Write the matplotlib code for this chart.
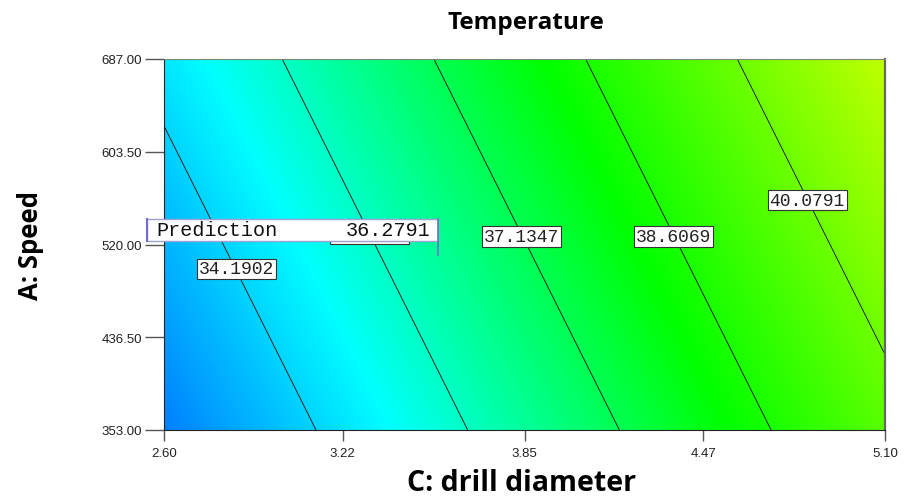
import numpy as np
import matplotlib.pyplot as plt
from matplotlib.colors import LinearSegmentedColormap
from matplotlib.patches import Rectangle

# Axis ranges and tick labels
c_ticks = [2.60, 3.22, 3.85, 4.47, 5.10]
a_ticks = [353.00, 436.50, 520.00, 603.50, 687.00]

# Fitted temperature surface: T = b0 + bc*(C - 2.60) + ba*(A - 353)
b0 = 32.715
bc = 2.799
ba = 0.00539

# Contour levels and where their labels sit (C, A)
levels = [34.1902, 35.6624, 37.1347, 38.6069, 40.0791]
label_c = [2.850, 3.314, 3.841, 4.368, 4.830]
label_a = [498.0, 530.0, 527.0, 527.0, 560.0]

# Prediction flag
pred_c = 3.55
pred_a = 520.0
pred_val = 36.2791

fig = plt.figure(figsize=(9.05, 5.02), dpi=100)
W, H = 905, 502
left, right, top, bottom = 164, 885, 60, 431
ax = fig.add_axes([left / W, 1 - bottom / H, (right - left) / W, (bottom - top) / H])

cc = np.linspace(c_ticks[0], c_ticks[-1], 300)
aa = np.linspace(a_ticks[0], a_ticks[-1], 300)
CC, AA = np.meshgrid(cc, aa)
T = b0 + bc * (CC - c_ticks[0]) + ba * (AA - a_ticks[0])

# blue -> cyan -> green -> yellow-green
vmin, vmax = 32.7, 41.5
nodes = [(0.0, (0 / 255, 128 / 255, 1.0)),
         ((34.9 - vmin) / (vmax - vmin), (0.0, 1.0, 1.0)),
         ((38.2 - vmin) / (vmax - vmin), (0.0, 1.0, 0.0)),
         (1.0, (190 / 255, 1.0, 0.0))]
cmap = LinearSegmentedColormap.from_list('de', nodes)

ax.imshow(T, origin='lower', aspect='auto', cmap=cmap, vmin=vmin, vmax=vmax,
          extent=[cc[0], cc[-1], aa[0], aa[-1]], interpolation='bilinear')
ax.contour(CC, AA, T, levels=levels, colors='#202020', linewidths=0.7)

for lvl, lc, la in zip(levels, label_c, label_a):
    ax.text(lc, la, f'{lvl:.4f}', ha='center', va='center', fontsize=13,
            family='Liberation Mono', color='#222222', zorder=4,
            bbox=dict(boxstyle='square,pad=0.1', fc='white', ec='#333333', lw=0.8))

# flag drawn in pixel-sized pieces converted to data units
px_c = (c_ticks[-1] - c_ticks[0]) / (right - left)
px_a = (a_ticks[-1] - a_ticks[0]) / (bottom - top)
fx0 = pred_c - 291 * px_c
fy0 = pred_a + 3.5 * px_a
fh = 22 * px_a
ax.add_patch(Rectangle((fx0, fy0), pred_c - fx0, fh, fc='white', ec='#a0a0d8',
                       lw=1.0, clip_on=False, zorder=6))
ax.plot([fx0, fx0], [fy0, fy0 + fh], color='#7070c8', lw=1.5, clip_on=False, zorder=7)
ax.plot([pred_c, pred_c], [pred_a - 10 * px_a, fy0 + fh], color='#7070c8', lw=1.2,
        clip_on=False, zorder=7)
ax.text(fx0 + 9 * px_c, fy0 + fh / 2, 'Prediction', ha='left', va='center',
        fontsize=14.5, family='Liberation Mono', color='#111111', zorder=8)
ax.text(pred_c - 7 * px_c, fy0 + fh / 2, f'{pred_val:.4f}', ha='right', va='center',
        fontsize=14.5, family='Liberation Mono', color='#111111', zorder=8)

ax.set_xlim(c_ticks[0], c_ticks[-1])
ax.set_ylim(a_ticks[0], a_ticks[-1])
ax.set_xticks(c_ticks)
ax.set_xticklabels([f'{v:.2f}' for v in c_ticks])
ax.set_yticks(a_ticks)
ax.set_yticklabels([f'{v:.2f}' for v in a_ticks])
ax.tick_params(axis='y', length=14, width=1, color='#555555', pad=2,
               labelsize=9.5, labelcolor='#222222')
ax.tick_params(axis='x', length=8, width=1, color='#555555', pad=4,
               labelsize=9.5, labelcolor='#222222')
for t in ax.get_xticklabels() + ax.get_yticklabels():
    t.set_family('Liberation Sans')

ax.spines['left'].set_color('#222222')
ax.spines['bottom'].set_color('#222222')
ax.spines['top'].set_color('#7a8a7a')
ax.spines['right'].set_color('#666666')
ax.spines['right'].set_linewidth(1.6)

# title and axis labels placed in figure pixels
fig.text(526 / W, 1 - 23 / H, 'Temperature', ha='center', va='center',
         fontsize=17.5, fontweight='bold', family='Open Sans')
fig.text(522 / W, 1 - 484 / H, 'C: drill diameter', ha='center', va='center',
         fontsize=20.5, fontweight='bold', family='Open Sans')
fig.text(30 / W, 1 - 245 / H, 'A: Speed', ha='center', va='center', rotation=90,
         fontsize=18.5, fontweight='bold', family='Open Sans')

fig.savefig('out.png', dpi=100)
